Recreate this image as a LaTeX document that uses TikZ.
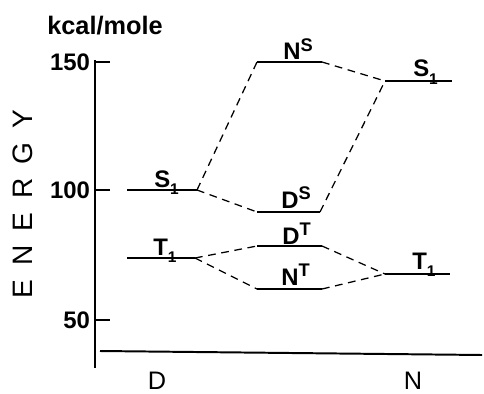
\documentclass[tikz,border=0pt]{standalone}
\usepackage{fontspec}
\setmainfont{Liberation Sans}
\usepackage{tikz}
\usetikzlibrary{positioning}

\newcommand{\lowone}{\raisebox{-5pt}{\fontsize{11}{11}\selectfont 1}}
\newcommand{\highsup}[1]{\raisebox{6pt}{\fontsize{13}{13}\selectfont #1}}

\begin{document}
\begin{tikzpicture}[
  x=0.025cm, y=-0.025cm,
  level/.style={line width=2pt},
  link/.style={line width=0.9pt, dash pattern=on 5.5pt off 4pt},
  lab/.style={anchor=base west, font=\fontsize{17}{17}\selectfont\bfseries, inner sep=0pt}
]
\useasboundingbox (0,0) rectangle (484,393);

% Axes
\node[font=\fontsize{18}{18}\selectfont\bfseries] (unit) at (105,26) {kcal/mole};
\draw[line width=1.4pt] (95,60) -- (95,368);
\draw[line width=1.4pt] (100,351) -- (482,355);

% Y-ticks
\foreach \y/\val in {62/150, 190/100, 320/50} {
  \draw[line width=1.4pt] (95,\y) -- (110,\y);
  \node[left, font=\fontsize{17}{17}\selectfont\bfseries, inner sep=2pt] at (93,\y) {\val};
}

\node[rotate=90, font=\fontsize{20}{20}\selectfont] (energy) at (23,204)
  {E\hspace{10pt}N\hspace{10pt}E\hspace{10pt}R\hspace{10pt}G\hspace{10pt}Y};

% X-labels
\node[font=\fontsize{18}{18}\selectfont] (molD) at (157,381) {D};
\node[font=\fontsize{18}{18}\selectfont] (molN) at (413,381) {N};

% Levels of D
\coordinate (dSa) at (127,190); \coordinate (dSb) at (197,190);
\coordinate (dTa) at (127,258); \coordinate (dTb) at (195,258);
\draw[level] (dSa) -- (dSb);
\draw[level] (dTa) -- (dTb);
\node[lab] (dS) at (154,187) {S\lowone};
\node[lab] (dT) at (153,255) {T\lowone};

% Levels of the pair
\coordinate (nsa) at (257,62);  \coordinate (nsb) at (322,62);
\coordinate (dsa) at (257,212); \coordinate (dsb) at (320,212);
\coordinate (dta) at (257,246); \coordinate (dtb) at (322,246);
\coordinate (nta) at (257,289); \coordinate (ntb) at (322,289);
\draw[level] (nsa) -- (nsb);
\draw[level] (dsa) -- (dsb);
\draw[level] (dta) -- (dtb);
\draw[level] (nta) -- (ntb);
\node[lab] (NS) at (283,60)  {N\highsup{S}};
\node[lab] (DS) at (281,208) {D\highsup{S}};
\node[lab] (DT) at (282,244) {D\highsup{T}};
\node[lab] (NT) at (281,285) {N\highsup{T}};

% Levels of N
\coordinate (nSa) at (385,81);  \coordinate (nSb) at (452,81);
\coordinate (nTa) at (385,274); \coordinate (nTb) at (450,274);
\draw[level] (nSa) -- (nSb);
\draw[level] (nTa) -- (nTb);
\node[lab] (nS) at (413,77)  {S\lowone};
\node[lab] (nT) at (412,269) {T\lowone};

% Correlation lines
\draw[link] (dSb) -- (nsa);
\draw[link] (dSb) -- (dsa);
\draw[link] (nsb) -- (nSa);
\draw[link] (dsb) -- (nSa);
\draw[link] (dTb) -- (dta);
\draw[link] (dTb) -- (nta);
\draw[link] (dtb) -- (nTa);
\draw[link] (ntb) -- (nTa);

\end{tikzpicture}
\end{document}
